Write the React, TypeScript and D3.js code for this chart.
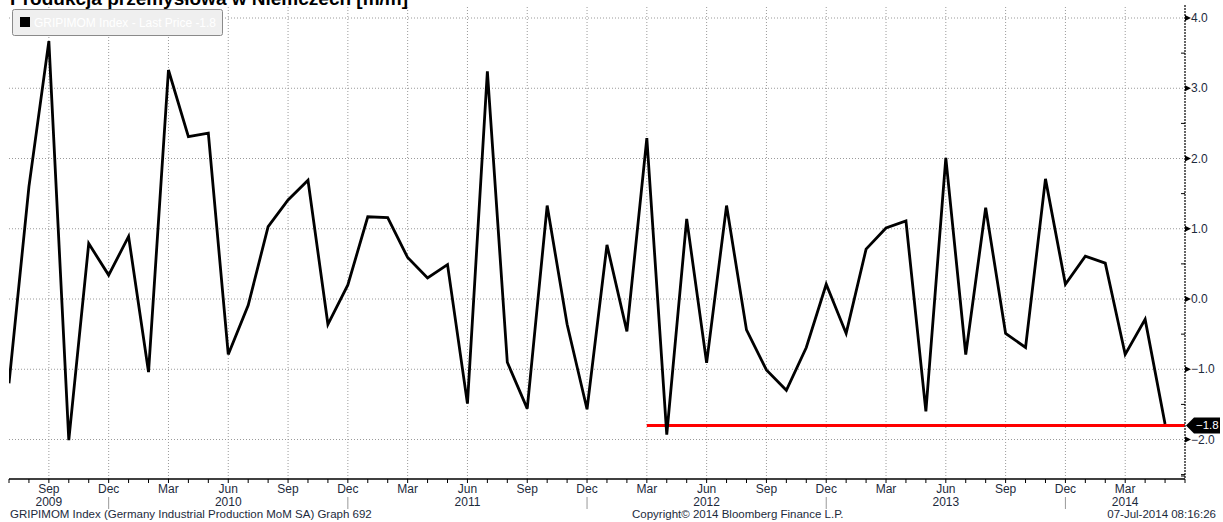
import * as d3 from "d3";
import React from "react";

// miesiące od lipca 2009 do maja 2014
const startYear = 2009;
const startMonth = 6; // lipiec (0 = styczeń)
const values = [
  -1.2, 1.6, 3.67, -2.01, 0.79, 0.34, 0.89, -1.04, 3.26, 2.31, 2.36, -0.79,
  -0.09, 1.03, 1.41, 1.69, -0.36, 0.2, 1.17, 1.16, 0.59, 0.3, 0.49, -1.49,
  3.24, -0.9, -1.56, 1.33, -0.36, -1.57, 0.77, -0.46, 2.29, -1.93, 1.14, -0.91,
  1.33, -0.44, -1.01, -1.3, -0.69, 0.21, -0.49, 0.71, 1.01, 1.11, -1.6, 2.01,
  -0.79, 1.3, -0.49, -0.69, 1.71, 0.21, 0.61, 0.51, -0.79, -0.29, -1.78,
];
const monthNames = ["Jan", "Feb", "Mar", "Apr", "May", "Jun", "Jul", "Aug", "Sep", "Oct", "Nov", "Dec"];
const labelMonths = ["Mar", "Jun", "Sep", "Dec"];
const yearLabels = [
  { year: "2009", month: "Sep 2009" },
  { year: "2010", month: "Jun 2010" },
  { year: "2011", month: "Jun 2011" },
  { year: "2012", month: "Jun 2012" },
  { year: "2013", month: "Jun 2013" },
  { year: "2014", month: "Mar 2014" },
];
const yTicks = [-2, -1, 0, 1, 2, 3, 4];
const yMinor = [-2.5, -1.5, -0.5, 0.5, 1.5, 2.5, 3.5];
const lastPrice = -1.8;
const refStart = "Mar 2012";

const title = "Produkcja przemysłowa w Niemczech [m/m]";
const legendText = "GRIPIMOM Index - Last Price -1.8";
const footerLeft = "GRIPIMOM Index (Germany Industrial Production MoM SA) Graph 692";
const footerMid = "Copyright© 2014 Bloomberg Finance L.P.";
const footerRight = "07-Jul-2014 08:16:26";

const months = values.map((_, i) => {
  const m = (startMonth + i) % 12;
  const y = startYear + Math.floor((startMonth + i) / 12);
  return { name: monthNames[m], year: y, key: `${monthNames[m]} ${y}` };
});

const W = 1223;
const H = 522;
const left = 9;
const right = 1185;
const top = 5;
const bottom = 479;
const font = "'Liberation Sans', Arial, sans-serif";
const txt = "#1c2a3c";

export default function App() {
  const x = d3.scaleLinear().domain([0, values.length]).range([left, right]);
  const y = d3.scaleLinear().domain([0, 4]).range([299, 18]);
  const idx = (key: string) => months.findIndex((m) => m.key === key);

  const line = d3
    .line<number>()
    .x((_, i) => x(i))
    .y((d) => y(d));

  const quarterIdx = months
    .map((m, i) => (labelMonths.includes(m.name) ? i : -1))
    .filter((i) => i >= 0);
  const decIdx = months.map((m, i) => (m.name === "Dec" ? i : -1)).filter((i) => i >= 0);

  return (
    <svg width={W} height={H} style={{ position: "absolute", left: 0, top: 0, background: "#fff" }}>
      <defs>
        <clipPath id="plot">
          <rect x={left} y={top} width={right - left} height={bottom - top} />
        </clipPath>
      </defs>

      {/* tytuł, u góry ucięty jak w oryginale */}
      <text x={10} y={5} fontFamily={font} fontSize={19} fontWeight="bold" fill="#000">
        {title}
      </text>

      {/* siatka */}
      {yTicks.map((t) => (
        <line key={"h" + t} x1={left} x2={right} y1={y(t)} y2={y(t)} stroke="#9a9a9a" strokeWidth={1} strokeDasharray="1,2" />
      ))}
      {quarterIdx.map((i) => (
        <line key={"v" + i} x1={x(i)} x2={x(i)} y1={7} y2={bottom} stroke="#9a9a9a" strokeWidth={1} strokeDasharray="1,2" />
      ))}

      {/* legenda */}
      <rect x={12.5} y={9.5} width={210} height={26} rx={2} fill="#efefef" stroke="#8a8a8a" />
      <rect x={20} y={17} width={10} height={10} fill="#000" />
      <text x={34} y={27} fontFamily={font} fontSize={12.5} fill="#fff" textLength={182} lengthAdjust="spacingAndGlyphs">
        {legendText}
      </text>

      {/* seria */}
      <g clipPath="url(#plot)">
        <line x1={x(idx(refStart))} x2={right} y1={y(lastPrice)} y2={y(lastPrice)} stroke="#ff0000" strokeWidth={3} />
        <path d={line(values) ?? ""} fill="none" stroke="#000" strokeWidth={2.8} strokeLinejoin="miter" />
      </g>

      {/* oś prawa */}
      <line x1={right} x2={right} y1={top} y2={bottom} stroke="#333" strokeWidth={1.5} strokeDasharray="2,1" />
      {yTicks.map((t) => (
        <g key={"yt" + t}>
          <path d={`M${right},${y(t) - 3}L${right + 6},${y(t)}L${right},${y(t) + 3}Z`} fill="#000" />
          <text x={right + 6} y={y(t) + 4} fontFamily={font} fontSize={12} fill={txt}>
            {d3.format(".1f")(t)}
          </text>
        </g>
      ))}
      {yMinor.map((t) => (
        <line key={"ym" + t} x1={right - 4} x2={right} y1={y(t)} y2={y(t)} stroke="#000" />
      ))}
      <line x1={right - 4} x2={right} y1={bottom - 3} y2={bottom - 3} stroke="#000" />

      {/* etykieta ostatniej wartości */}
      <path
        d={`M${right + 1},${y(lastPrice)}L${right + 9},${y(lastPrice) - 8}H${right + 35}V${y(lastPrice) + 8}H${right + 9}Z`}
        fill="#000"
      />
      <text x={right + 11} y={y(lastPrice) + 4} fontFamily={font} fontSize={11.5} fill="#fff">
        {d3.format(".1f")(lastPrice)}
      </text>

      {/* oś dolna */}
      <line x1={left} x2={right} y1={bottom} y2={bottom} stroke="#000" strokeWidth={1.5} />
      {months.map((m, i) => (
        <line key={"xt" + i} x1={x(i)} x2={x(i)} y1={bottom} y2={bottom + 4} stroke="#000" />
      ))}
      <line x1={right} x2={right} y1={bottom} y2={bottom + 4} stroke="#000" />
      {quarterIdx.map((i) => (
        <text key={"xl" + i} x={x(i)} y={bottom + 14} textAnchor="middle" fontFamily={font} fontSize={12} fill={txt}>
          {months[i].name}
        </text>
      ))}
      {yearLabels.map((yl) => (
        <text key={yl.year} x={x(idx(yl.month))} y={bottom + 27} textAnchor="middle" fontFamily={font} fontSize={12} fill={txt}>
          {yl.year}
        </text>
      ))}
      {decIdx.map((i) => (
        <line key={"sep" + i} x1={x(i)} x2={x(i)} y1={bottom + 18} y2={bottom + 30} stroke="#999" />
      ))}

      {/* stopka */}
      <text x={10} y={H - 4} fontFamily={font} fontSize={11.5} fill={txt}>
        {footerLeft}
      </text>
      <text x={632} y={H - 4} fontFamily={font} fontSize={11.5} fill={txt}>
        {footerMid}
      </text>
      <text x={1216} y={H - 4} textAnchor="end" fontFamily={font} fontSize={11.5} fill={txt}>
        {footerRight}
      </text>
    </svg>
  );
}
